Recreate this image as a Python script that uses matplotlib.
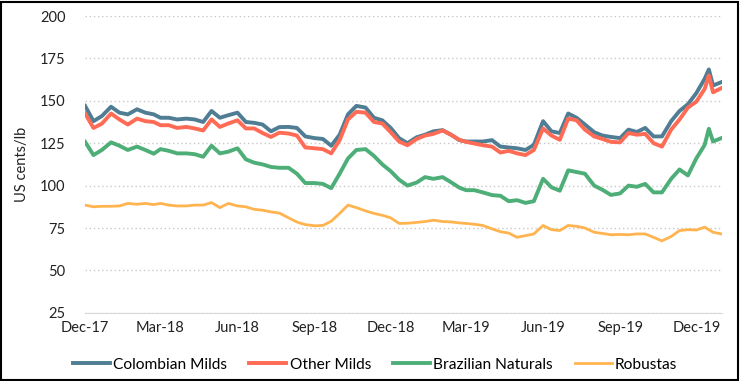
import pandas as pd
import matplotlib.pyplot as plt
import matplotlib.dates as mdates
from matplotlib.patches import Rectangle

plt.rcParams['font.family'] = ['Lato', 'DejaVu Sans']

# dates (about every 10 days) and prices in US cents/lb
dates = [
    '2017-12-01', '2017-12-11', '2017-12-21',
    '2018-01-01', '2018-01-11', '2018-01-21',
    '2018-02-01', '2018-02-11', '2018-02-21',
    '2018-03-01', '2018-03-11', '2018-03-21',
    '2018-04-01', '2018-04-11', '2018-04-21',
    '2018-05-01', '2018-05-11', '2018-05-21',
    '2018-06-01', '2018-06-11', '2018-06-21',
    '2018-07-01', '2018-07-11', '2018-07-21',
    '2018-08-01', '2018-08-11', '2018-08-21',
    '2018-09-01', '2018-09-11', '2018-09-21',
    '2018-10-01', '2018-10-11', '2018-10-21',
    '2018-11-01', '2018-11-11', '2018-11-21',
    '2018-12-01', '2018-12-11', '2018-12-21',
    '2019-01-01', '2019-01-11', '2019-01-21',
    '2019-02-01', '2019-02-11', '2019-02-21',
    '2019-03-01', '2019-03-11', '2019-03-21',
    '2019-04-01', '2019-04-11', '2019-04-21',
    '2019-05-01', '2019-05-11', '2019-05-21',
    '2019-06-01', '2019-06-11', '2019-06-21',
    '2019-07-01', '2019-07-11', '2019-07-21',
    '2019-08-01', '2019-08-11', '2019-08-21',
    '2019-09-01', '2019-09-11', '2019-09-21',
    '2019-10-01', '2019-10-11', '2019-10-21',
    '2019-11-01', '2019-11-11', '2019-11-21',
    '2019-12-01', '2019-12-11', '2019-12-16', '2019-12-21', '2019-12-31',
]

colombian = [
    147, 138, 141, 146.5, 143, 142, 145, 143, 142,
    140, 140, 139, 139.5, 139, 137.5, 144, 140, 141.5,
    143, 137.5, 137, 136, 132, 134.5, 134.6, 134, 129,
    128, 127.5, 123.5, 130, 142, 147, 146, 140, 138.5,
    134, 128, 125, 128.5, 130, 132, 132.7, 130, 126.8,
    126, 126, 126, 126.8, 123, 122.5, 122, 121, 124,
    138, 132, 131, 142.5, 140, 136, 131.5, 129.5, 128.7,
    128, 133, 131.6, 134, 129, 129, 138, 144, 148,
    154.5, 163, 168.5, 159, 161,
]

other_milds = [
    142.5, 134, 136.5, 142.5, 139, 136, 139.5, 138, 137.5,
    135.6, 135.6, 134, 134.6, 133.7, 132.5, 139, 134.6, 136.6,
    138.5, 133.7, 133.7, 131, 128.7, 131.2, 130.7, 129.5, 122.5,
    122, 121.5, 119, 126.8, 139, 143.5, 143, 137.5, 136.6,
    131.5, 126, 123.8, 127.5, 129.5, 130.5, 132.5, 130, 127,
    125.8, 124.8, 123.8, 123, 119.5, 120.5, 119, 118, 121,
    133.7, 129.5, 127, 139.5, 138.5, 133, 129, 127.5, 125.8,
    125.5, 131, 130, 130.5, 125, 123, 133, 139, 146,
    149.5, 157, 165, 155, 157.5,
]

brazilian = [
    125.8, 118, 121, 125.5, 123.5, 121, 123, 121, 118.8,
    121.5, 120.5, 119, 119, 118.5, 117, 123.5, 119, 120,
    122, 115.5, 113.5, 112.5, 111, 110.5, 110.5, 107, 101.5,
    101.5, 101, 98.5, 107, 116, 121, 121.5, 117.5, 112.5,
    108.5, 103.5, 100, 101.8, 105, 104, 105, 102, 98.8,
    97.3, 97.3, 96, 94.4, 94, 90.8, 91.4, 89.8, 90.8,
    104, 99, 97, 109, 108, 107, 100, 97.5, 94.5,
    95.4, 100, 99.3, 101, 96, 96, 104, 109.5, 106,
    116, 124, 133.5, 126, 128,
]

robustas = [
    88.5, 87.5, 87.8, 87.8, 88, 89.5, 89, 89.5, 88.8,
    89.5, 88.5, 88, 88, 88.5, 88.5, 90, 87, 89.5,
    88, 87.5, 86, 85.5, 84.5, 83.8, 81, 78.5, 77,
    76.3, 76.5, 79, 83.6, 88.5, 87, 85.1, 83.6, 82.5,
    81, 77.7, 77.8, 78.3, 78.8, 79.6, 78.8, 78.6, 78,
    77.7, 77.2, 76.5, 74.5, 72.8, 72, 69.5, 70.5, 71.5,
    76.5, 74, 73.5, 76.5, 76, 75, 72.5, 71.8, 71,
    71.2, 71, 71.5, 71.5, 69.5, 67.4, 70, 73.5, 74,
    73.8, 75.5, 74, 72.5, 71.5,
]

tick_dates = ['2017-12-01', '2018-03-01', '2018-06-01', '2018-09-01', '2018-12-01',
              '2019-03-01', '2019-06-01', '2019-09-01', '2019-12-01']

x = pd.to_datetime(dates)

fig = plt.figure(figsize=(7.4, 3.81), dpi=100)
ax = fig.add_axes([0.115, 0.179, 0.861, 0.779])

ax.plot(x, colombian, color='#4F7D93', lw=2.8, label='Colombian Milds')
ax.plot(x, other_milds, color='#FF6B55', lw=2.8, label='Other Milds')
ax.plot(x, brazilian, color='#4DAE78', lw=2.8, label='Brazilian Naturals')
ax.plot(x, robustas, color='#FFB44F', lw=2.0, label='Robustas')

ax.set_ylim(25, 200)
ax.set_yticks(range(25, 201, 25))
ax.set_xlim(pd.Timestamp('2017-12-01'), pd.Timestamp('2020-01-01'))
ax.set_xticks(pd.to_datetime(tick_dates))
ax.xaxis.set_major_formatter(mdates.DateFormatter('%b-%y'))

ax.grid(axis='y', linestyle=(0, (1, 2)), color='#C8C8C8', lw=1)
for s in ['top', 'right', 'left']:
    ax.spines[s].set_visible(False)
ax.spines['bottom'].set_color('#D9D9D9')
ax.tick_params(length=0, labelsize=10.5, colors='#222222')
ax.tick_params(axis='y', pad=14)
ax.tick_params(axis='x', pad=6)
ax.set_ylabel('US cents/lb', fontsize=10.5, color='#222222', labelpad=8)

fig.legend(loc='center', bbox_to_anchor=(0.507, 0.043), ncol=4, frameon=False,
           fontsize=11.2, handlelength=2.4, handletextpad=0.2, columnspacing=1.4)

fig.patches.append(Rectangle((0.002, 0.003), 0.995, 0.993, transform=fig.transFigure,
                             fill=False, edgecolor='black', lw=1.5))

fig.savefig('out.png', dpi=100)
